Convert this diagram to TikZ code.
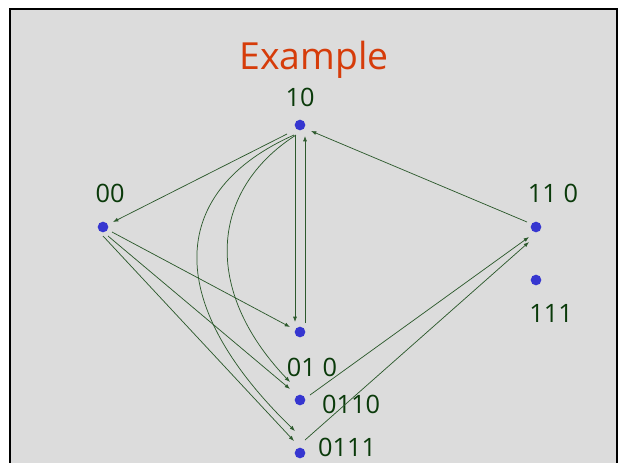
\documentclass[tikz,border=0pt]{standalone}
\usepackage{fontspec}
\setmainfont{Open Sans}
\usetikzlibrary{arrows.meta}
\definecolor{bg}{RGB}{220,220,220}
\definecolor{dotblue}{RGB}{54,54,208}
\definecolor{edgegreen}{RGB}{45,90,45}
\definecolor{lblgreen}{RGB}{10,58,10}
\definecolor{titlered}{RGB}{214,60,10}
\tikzset{
  dot/.style={circle, fill=dotblue, minimum size=8pt, inner sep=0pt, outer sep=0pt},
  lbl/.style={text=lblgreen, font=\fontsize{19}{19}\selectfont, inner sep=0pt},
  edge/.style={draw=edgegreen, line width=0.55pt, -{Latex[length=4pt,width=3pt]}},
}
\begin{document}
\begin{tikzpicture}[x=0.75pt, y=-0.75pt]
\useasboundingbox (0,0) rectangle (627,462);
\clip (0,0) rectangle (627,462);
\fill[white] (0,0) rectangle (627,462);
\draw[fill=bg, draw=black, line width=1.6pt] (10,9) rectangle (617,480);

\node[text=titlered, font=\fontsize{28}{28}\selectfont, inner sep=0pt] (title) at (314,60) {Example};

% nodes
\node[dot] (n10) at (300,125) {};
\node[dot] (n00) at (103,227) {};
\node[dot] (n110) at (536,227) {};
\node[dot] (n111) at (536,280) {};
\node[dot] (n010) at (300,332) {};
\node[dot] (n0110) at (300,400) {};
\node[dot] (n0111) at (300,453) {};

% labels
\node[lbl] (l10) at (300,97) {10};
\node[lbl] (l00) at (110,193) {00};
\node[lbl] (l110) at (553,193) {11 0};
\node[lbl] (l111) at (551,313) {111};
\node[lbl] (l010) at (312,367) {01 0};
\node[lbl] (l0110) at (351,404) {0110};
\node[lbl] (l0111) at (347,447) {0111};

% edges
\draw[edge] ([shift={(-13,9)}]n10.center) -- ([shift={(10,-5)}]n00.center);
\draw[edge] ([shift={(-5,10)}]n10.center) -- ([shift={(-5,-10)}]n010.center);
\draw[edge] ([shift={(5,-9)}]n010.center) -- ([shift={(5,11)}]n10.center);
\draw[edge] ([shift={(-4,10)}]n10.center) .. controls (210,190) and (202,290) .. ([shift={(-10,-18)}]n0110.center);
\draw[edge] ([shift={(-6,10)}]n10.center) .. controls (170,190) and (160,300) .. ([shift={(-5,-22)}]n0111.center);
\draw[edge] ([shift={(9,5)}]n00.center) -- ([shift={(-10,-5)}]n010.center);
\draw[edge] ([shift={(5,9)}]n00.center) -- ([shift={(-10,-11)}]n0110.center);
\draw[edge] ([shift={(0,9)}]n00.center) -- ([shift={(-6,-12)}]n0111.center);
\draw[edge] ([shift={(10,-5)}]n0110.center) -- ([shift={(-7,10)}]n110.center);
\draw[edge] ([shift={(5,-13)}]n0111.center) -- ([shift={(-7,15)}]n110.center);
\draw[edge] ([shift={(-9,-5)}]n110.center) -- ([shift={(11,6)}]n10.center);
\end{tikzpicture}
\end{document}
